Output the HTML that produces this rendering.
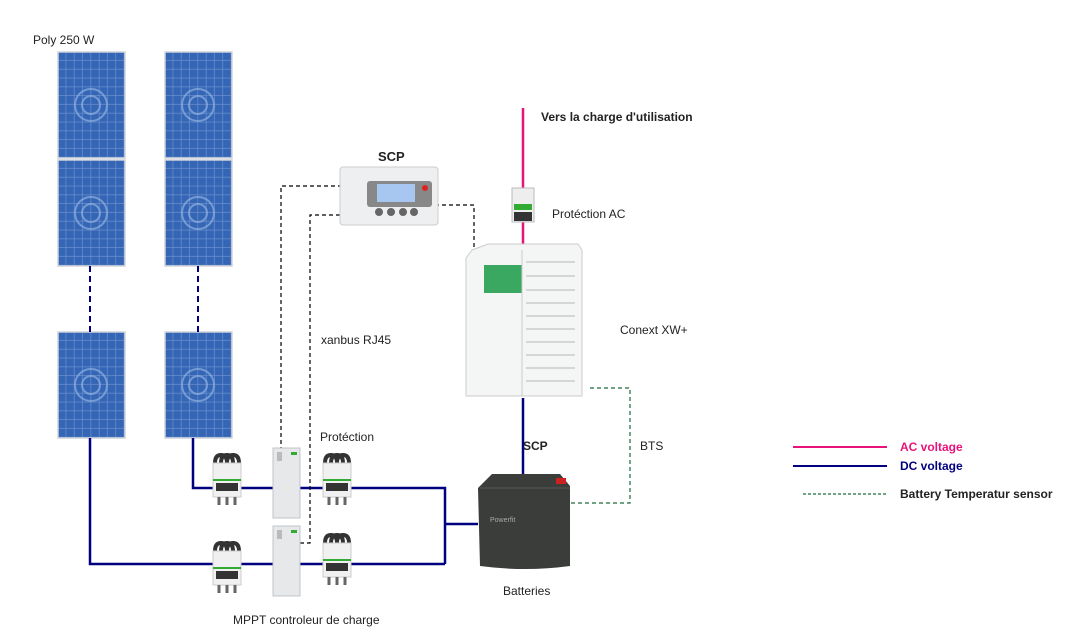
<!DOCTYPE html>
<html><head><meta charset="utf-8"><style>
html,body{margin:0;padding:0;background:#fff;}
svg{display:block;font-family:"Liberation Sans",sans-serif;}
</style></head><body>
<svg width="1076" height="636" viewBox="0 0 1076 636" xmlns="http://www.w3.org/2000/svg">
<defs>
<pattern id="cells" width="8.3" height="8.8" patternUnits="userSpaceOnUse">
<rect width="8.3" height="8.8" fill="#6d8fcc"/><rect x="0" y="0" width="7.6" height="8.1" fill="#3566b6"/>
</pattern>
<g id="panel"><rect width="67" height="106" fill="url(#cells)" stroke="#d0d4da" stroke-width="1.5"/>
<circle cx="33" cy="53" r="16" fill="none" stroke="#8fb0e0" stroke-width="2" opacity=".7"/>
<circle cx="33" cy="53" r="9" fill="none" stroke="#8fb0e0" stroke-width="2" opacity=".7"/></g>
<g id="brk"><path d="M4 8 q0-8 6-8 q6 0 6 8 M10 8 q0-8 6-8 q6 0 6 8 M16 8 q0-8 6-8 q6 0 6 8" fill="none" stroke="#333" stroke-width="4"/>
<rect x="2" y="8" width="28" height="34" fill="#f0f0f0" stroke="#ccc"/>
<rect x="2" y="24" width="28" height="2" fill="#3a3"/>
<rect x="5" y="28" width="22" height="8" fill="#333"/>
<path d="M8 42v8M16 42v8M24 42v8" stroke="#666" stroke-width="3"/></g>
<g id="mppt"><rect width="27" height="70" fill="#e6e8ea" stroke="#c0c4c8"/><rect x="4" y="4" width="5" height="9" fill="#bbb"/><rect x="18" y="4" width="6" height="3" fill="#3a3"/></g>
</defs>
<use href="#panel" x="58" y="52"/><use href="#panel" x="58" y="160"/>
<use href="#panel" x="165" y="52"/><use href="#panel" x="165" y="160"/>
<use href="#panel" x="58" y="332"/><use href="#panel" x="165" y="332"/>
<g stroke="#000080" stroke-width="2" stroke-dasharray="6,4"><path d="M90 266V332M198 266V332"/></g>
<g stroke="#000080" stroke-width="2.5" fill="none">
<path d="M90 438V564H445"/><path d="M193 438V488H445V564"/><path d="M445 524H478"/><path d="M523 398V478"/>
</g>
<path d="M523 108V246" stroke="#e8137a" stroke-width="2.5"/>
<g stroke="#000" stroke-width="1.2" fill="none" stroke-dasharray="4,3">
<path d="M342 186H281V448"/><path d="M340 215H310V543H300"/><path d="M435 205H474V247"/>
</g>
<path d="M590 388H630V503H568" stroke="#1a6a3a" stroke-width="1.2" fill="none" stroke-dasharray="4,3"/>
<use href="#brk" x="211" y="455"/><use href="#brk" x="321" y="455"/>
<use href="#brk" x="211" y="543"/><use href="#brk" x="321" y="535"/>
<use href="#mppt" x="273" y="448"/><use href="#mppt" x="273" y="526"/>
<rect x="340" y="167" width="98" height="58" rx="3" fill="#eeeff0" stroke="#ccc"/>
<rect x="367" y="181" width="65" height="26" rx="3" fill="#888"/>
<rect x="377" y="184" width="38" height="18" fill="#a7c6f0"/>
<g fill="#666"><circle cx="379" cy="212" r="4"/><circle cx="391" cy="212" r="4"/><circle cx="403" cy="212" r="4"/><circle cx="414" cy="212" r="4"/></g>
<circle cx="425" cy="188" r="3" fill="#d22"/>
<rect x="512" y="188" width="22" height="34" fill="#eee" stroke="#bbb"/><rect x="514" y="204" width="18" height="6" fill="#3a3"/><rect x="514" y="212" width="18" height="9" fill="#333"/>
<path d="M472 250L488 244H578L582 250V396H466V258Z" fill="#f4f5f5" stroke="#ccc"/>
<rect x="484" y="265" width="38" height="28" fill="#3aa860"/>
<path d="M522 250V396" stroke="#ccc"/>
<g stroke="#ccc" stroke-width="1.5"><path d="M526 262H575M526 276H575M526 290H575M526 303H575M526 316H575M526 329H575M526 342H575M526 355H575M526 368H575M526 381H575"/></g>
<path d="M478 488L492 474H560L570 486V566Q525 572 480 566Z" fill="#3a3d3a"/>
<path d="M480 488H570" stroke="#555"/>
<rect x="556" y="478" width="10" height="6" fill="#c22"/>
<text x="490" y="522" font-size="7" fill="#aaa">Powerfit</text>
<g fill="#222">
<text x="33" y="44" font-size="12">Poly 250 W</text>
<text x="541" y="121" font-size="12" font-weight="bold">Vers la charge d'utilisation</text>
<text x="378" y="161" font-size="13" font-weight="bold">SCP</text>
<text x="552" y="218" font-size="12">Protéction  AC</text>
<text x="620" y="334" font-size="12">Conext XW+</text>
<text x="321" y="344" font-size="12">xanbus RJ45</text>
<text x="320" y="441" font-size="12">Protéction</text>
<text x="523" y="450" font-size="12" font-weight="bold">SCP</text>
<text x="640" y="450" font-size="12">BTS</text>
<text x="503" y="595" font-size="12">Batteries</text>
<text x="233" y="624" font-size="12">MPPT controleur de charge</text>
</g>
<path d="M793 447H887" stroke="#e8137a" stroke-width="2"/>
<path d="M793 466H887" stroke="#000080" stroke-width="2"/>
<path d="M803 494H887" stroke="#1a6a3a" stroke-width="1.2" stroke-dasharray="3,2"/>
<text x="900" y="451" font-size="12" font-weight="bold" fill="#e8137a">AC voltage</text>
<text x="900" y="470" font-size="12" font-weight="bold" fill="#000080">DC voltage</text>
<text x="900" y="498" font-size="12" font-weight="bold" fill="#222">Battery Temperatur sensor</text>
</svg>
</body></html>
